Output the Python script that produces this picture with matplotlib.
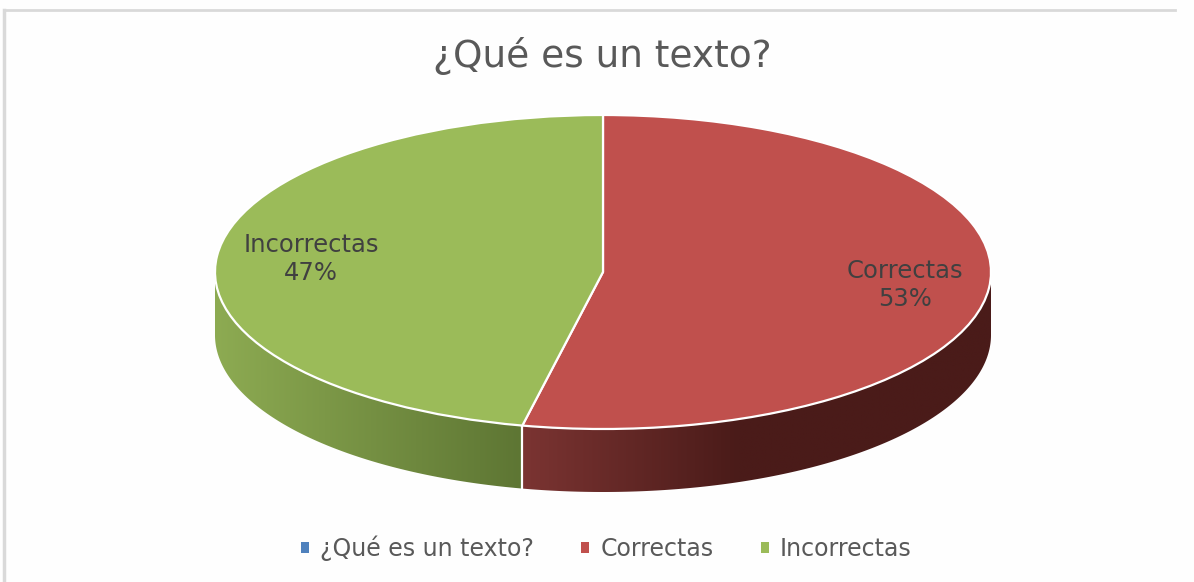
import numpy as np
import matplotlib
matplotlib.use("Agg")
import matplotlib.pyplot as plt
from matplotlib.lines import Line2D
from matplotlib.patches import Patch, Polygon
from matplotlib.colors import to_rgb

# Chart data
title = "¿Qué es un texto?"
categories = ["¿Qué es un texto?", "Correctas", "Incorrectas"]
counts = [0, 8, 7]
percent_labels = ["", "53%", "47%"]
colors = ["#4f81bd", "#c0504d", "#9bbb59"]

# Shading of the side wall, (left colour, right colour, x where it stops changing)
side_shades = {
    "Correctas": ("#7b3432", "#4a1b19", 0.35),
    "Incorrectas": ("#8dab52", "#5d7533", -0.2),
}

W, H = 1194, 582
text_col = "#595959"
plt.rcParams["font.family"] = ["DejaVu Sans"]

fig = plt.figure(figsize=(W / 100, H / 100), dpi=100, facecolor="#fefefe")

# Axes limits -1..1 sit on the top ellipse of the pie
rx, ry = 388, 157
cx, cy = 603, 272
depth = 63 / ry
ax = fig.add_axes([(cx - rx) / W, 1 - (cy + ry + 63) / H, 2 * rx / W, (2 * ry + 63) / H])

wedges, _ = ax.pie(counts, colors=colors, startangle=90, counterclock=False,
                   wedgeprops={"edgecolor": "white", "linewidth": 1.6, "zorder": 3})
for w in wedges:
    w.set_clip_on(False)

# Side wall, only the front half of each slice can be seen
for w, name in zip(wedges, categories):
    if name not in side_shades:
        continue
    left, right, stop = side_shades[name]
    angles = np.radians(np.linspace(max(w.theta1, -180), min(w.theta2, 0), 200))
    xs = np.cos(angles)
    ys = np.sin(angles)
    outline = np.column_stack([np.r_[xs, xs[::-1]], np.r_[ys, ys[::-1] - depth]])
    clip = Polygon(outline, transform=ax.transData, facecolor="none", edgecolor="none")
    ax.add_patch(clip)
    # horizontal gradient, clipped to the wall shape
    grad_x = np.linspace(xs.min(), xs.max(), 400)
    t = np.clip((grad_x - xs.min()) / (stop - xs.min()), 0, 1)[None, :, None]
    img = np.array(to_rgb(left)) + (np.array(to_rgb(right)) - np.array(to_rgb(left))) * t
    im = ax.imshow(img, extent=[xs.min(), xs.max(), -1 - depth, 0.2], aspect="auto",
                   origin="lower", zorder=1, interpolation="bilinear")
    im.set_clip_path(clip)

ax.set_aspect("auto")
ax.set_xlim(-1, 1)
ax.set_ylim(-1 - depth, 1)
ax.axis("off")

# White seam where the two slices meet on the wall
seam = np.radians(wedges[1].theta1)
ax.plot([np.cos(seam)] * 2, [np.sin(seam), np.sin(seam) - depth], color="white", lw=1.6, zorder=2,
        solid_capstyle="butt", clip_on=False)

# Data labels inside the slices
for w, name, pct in zip(wedges, categories, percent_labels):
    if pct == "":
        continue
    mid = np.radians((w.theta1 + w.theta2) / 2)
    ax.text(0.77 * np.cos(mid) + 0.013, 0.77 * np.sin(mid), name + "\n" + pct, ha="center", va="center",
            fontsize=17.5, color="#404040", linespacing=1.2, zorder=5)

fig.text((432 + 772) / 2 / W, 1 - 56 / H, title, ha="center", va="center", fontsize=27, color=text_col)

# Legend
handles = [Patch(facecolor=c, edgecolor="none") for c in colors]
fig.legend(handles, categories, loc="center", bbox_to_anchor=(606.5 / W, 1 - 548 / H), ncol=3,
           frameon=False, fontsize=17, labelcolor=text_col, handlelength=0.34, handleheight=0.34,
           handletextpad=0.47, columnspacing=2.0)

# Chart border, top and left only
fig.add_artist(Line2D([4 / W, 1175 / W], [1 - 10 / H, 1 - 10 / H], color="#d9d9d9", lw=2))
fig.add_artist(Line2D([4 / W, 4 / W], [1 - 10 / H, 0], color="#d9d9d9", lw=2.5))

fig.savefig("out.png", dpi=100, facecolor=fig.get_facecolor())
